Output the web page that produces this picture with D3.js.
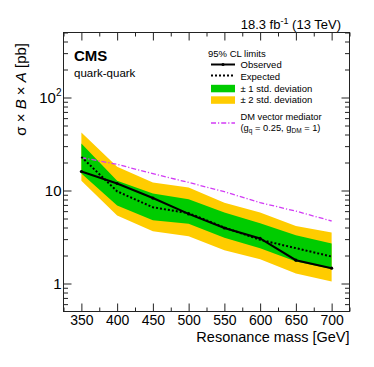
<!DOCTYPE html>
<html><head><meta charset="utf-8">
<script src="https://cdn.jsdelivr.net/npm/d3@7"></script>
<style>body{margin:0;background:#fff} svg{display:block} text{font-family:"Liberation Sans",Arial,sans-serif;fill:#000}</style>
</head><body><svg id="c" width="374" height="367"></svg>
<script>
// ---- data ----
const mass      = [350, 400, 450, 500, 550, 600, 650, 700];
const observed  = [16.0, 11.9, 8.3, 5.6, 3.95, 3.05, 1.78, 1.46];
const expected  = [23.0, 9.8, 6.6, 5.7, 4.0, 2.95, 2.4, 1.95];
const sig2Up    = [42.0, 18.0, 12.2, 10.8, 7.4, 5.8, 4.16, 3.53];
const sig1Up    = [32.0, 12.7, 9.3, 8.06, 5.8, 4.45, 3.3, 2.69];
const sig1Down  = [15.2, 6.9, 4.8, 4.4, 3.1, 2.4, 1.72, 1.43];
const sig2Down  = [12.7, 5.4, 3.65, 3.22, 2.28, 1.82, 1.28, 1.05];
const dmVector  = [22.6, 19.1, 15.2, 12.2, 9.7, 7.4, 6.0, 4.7];
const xTickValues = [350, 400, 450, 500, 550, 600, 650, 700];
const xMinorValues = [325, 375, 425, 475, 525, 575, 625, 675, 725];
const yMajorValues = [1, 10, 100];
const yTickBase = ["1", "10", "10"];
const yTickSup  = ["", "", "2"];
const yMinorValues = [0.6,0.7,0.8,0.9,2,3,4,5,6,7,8,9,20,30,40,50,60,70,80,90,200,300,400,500];

// ---- layout ----
const L = 63.5, R = 349.5, T = 32.5, B = 311.5;
const svg = d3.select("#c");
const x = d3.scaleLinear().domain([325, 725]).range([L, R]);
const y = d3.scaleLog().domain([0.5, 500]).range([B, T]);
const idx = d3.range(mass.length);

const GREEN = "#00cc00", YELLOW = "#ffcc00", DM = "#d23cf5";

// bands
const band = (lo, hi) => d3.area().x(i => x(mass[i])).y0(i => y(lo[i])).y1(i => y(hi[i]));
svg.append("path").datum(idx).attr("d", band(sig2Down, sig2Up)).attr("fill", YELLOW);
svg.append("path").datum(idx).attr("d", band(sig1Down, sig1Up)).attr("fill", GREEN);

const line = arr => d3.line().x(i => x(mass[i])).y(i => y(arr[i]));
svg.append("path").datum(idx).attr("d", line(dmVector)).attr("fill", "none")
  .attr("stroke", DM).attr("stroke-width", 1.3).attr("stroke-dasharray", "5,2,1.2,2");
svg.append("path").datum(idx).attr("d", line(expected)).attr("fill", "none")
  .attr("stroke", "#000").attr("stroke-width", 2).attr("stroke-dasharray", "2,2");
svg.append("path").datum(idx).attr("d", line(observed)).attr("fill", "none")
  .attr("stroke", "#000").attr("stroke-width", 2);
svg.selectAll("circle.obs").data(idx).enter().append("circle").attr("class", "obs")
  .attr("cx", i => x(mass[i])).attr("cy", i => y(observed[i])).attr("r", 1.6).attr("fill", "#000");

// axes (ticks inward, ROOT style)
function styleAxis(g) { g.select(".domain").remove(); g.selectAll("line").attr("stroke", "#222"); }
svg.append("g").attr("transform", `translate(0,${B})`)
  .call(d3.axisBottom(x).tickValues(xTickValues).tickSize(-8).tickPadding(3.5).tickFormat(d => d))
  .call(styleAxis)
  .call(g => g.selectAll("text").attr("font-size", 14).attr("font-family", '"Liberation Sans",Arial,sans-serif').attr("fill", "#000"));
svg.append("g").attr("transform", `translate(0,${B})`)
  .call(d3.axisBottom(x).tickValues(xMinorValues).tickSize(-4).tickFormat("")).call(styleAxis);
svg.append("g").attr("transform", `translate(0,${T})`)
  .call(d3.axisTop(x).tickValues(xTickValues).tickSize(-8).tickFormat("")).call(styleAxis);
svg.append("g").attr("transform", `translate(0,${T})`)
  .call(d3.axisTop(x).tickValues(xMinorValues).tickSize(-4).tickFormat("")).call(styleAxis);
svg.append("g").attr("transform", `translate(${L},0)`)
  .call(d3.axisLeft(y).tickValues(yMajorValues).tickSize(-8).tickFormat("")).call(styleAxis);
svg.append("g").attr("transform", `translate(${L},0)`)
  .call(d3.axisLeft(y).tickValues(yMinorValues).tickSize(-4.5).tickFormat("")).call(styleAxis);
svg.append("g").attr("transform", `translate(${R},0)`)
  .call(d3.axisRight(y).tickValues(yMajorValues).tickSize(-8).tickFormat("")).call(styleAxis);
svg.append("g").attr("transform", `translate(${R},0)`)
  .call(d3.axisRight(y).tickValues(yMinorValues).tickSize(-4.5).tickFormat("")).call(styleAxis);

// y tick labels
yMajorValues.forEach((v, i) => {
  const t = svg.append("text").attr("x", 61.5).attr("y", y(v) + 5.3).attr("text-anchor", "end").attr("font-size", 15).text(yTickBase[i]);
  if (yTickSup[i]) t.append("tspan").attr("font-size", 10).attr("dy", -6.5).text(yTickSup[i]);
});

// frame
svg.append("rect").attr("x", L).attr("y", T).attr("width", R - L).attr("height", B - T)
  .attr("fill", "none").attr("stroke", "#222").attr("stroke-width", 1);

// titles
svg.append("text").attr("x", R).attr("y", 341.5).attr("text-anchor", "end").attr("font-size", 14.5).text("Resonance mass [GeV]");
const yt = svg.append("text").attr("transform", "translate(26,43) rotate(-90)").attr("text-anchor", "end").attr("font-size", 15);
yt.append("tspan").text("σ × ");
yt.append("tspan").attr("font-style", "italic").text("B");
yt.append("tspan").text(" × ");
yt.append("tspan").attr("font-style", "italic").text("A");
yt.append("tspan").text(" [pb]");

const lumi = svg.append("text").attr("x", 341).attr("y", 28.5).attr("text-anchor", "end").attr("font-size", 13);
lumi.append("tspan").text("18.3 fb");
lumi.append("tspan").attr("font-size", 9).attr("dy", -5).text("-1");
lumi.append("tspan").attr("dy", 5).text(" (13 TeV)");

svg.append("text").attr("x", 74).attr("y", 61).attr("font-size", 15).attr("font-weight", "bold").text("CMS");
svg.append("text").attr("x", 74).attr("y", 77).attr("font-size", 11.5).text("quark-quark");

// legend
const lg = svg.append("g").attr("font-size", 9.5);
const lx0 = 211, lx1 = 235, tx = 240.5;
lg.append("text").attr("x", 208).attr("y", 57).text("95% CL limits");
lg.append("line").attr("x1", lx0).attr("x2", lx1).attr("y1", 64.5).attr("y2", 64.5).attr("stroke", "#000").attr("stroke-width", 2);
lg.append("circle").attr("cx", (lx0 + lx1) / 2).attr("cy", 64.5).attr("r", 1.6);
lg.append("text").attr("x", tx).attr("y", 68).text("Observed");
lg.append("line").attr("x1", lx0).attr("x2", lx1).attr("y1", 75.5).attr("y2", 75.5).attr("stroke", "#000").attr("stroke-width", 2).attr("stroke-dasharray", "2,2");
lg.append("text").attr("x", tx).attr("y", 79.5).text("Expected");
lg.append("rect").attr("x", lx0).attr("y", 84.8).attr("width", lx1 - lx0).attr("height", 7.5).attr("fill", GREEN);
lg.append("text").attr("x", tx).attr("y", 91.5).text("± 1 std. deviation");
lg.append("rect").attr("x", lx0).attr("y", 96.3).attr("width", lx1 - lx0).attr("height", 7.5).attr("fill", YELLOW);
lg.append("text").attr("x", tx).attr("y", 103).text("± 2 std. deviation");
lg.append("line").attr("x1", lx0).attr("x2", lx1).attr("y1", 123).attr("y2", 123).attr("stroke", DM).attr("stroke-width", 1.3).attr("stroke-dasharray", "5,2,1.2,2");
lg.append("text").attr("x", tx).attr("y", 120.2).attr("font-size", 9.3).text("DM vector mediator");
const gq = lg.append("text").attr("x", tx).attr("y", 131).attr("font-size", 9.3);
gq.append("tspan").text("(g");
gq.append("tspan").attr("font-size", 6.5).attr("dy", 2).text("q");
gq.append("tspan").attr("dy", -2).text(" = 0.25, g");
gq.append("tspan").attr("font-size", 6.5).attr("dy", 2).text("DM");
gq.append("tspan").attr("dy", -2).text(" = 1)");
</script></body></html>
